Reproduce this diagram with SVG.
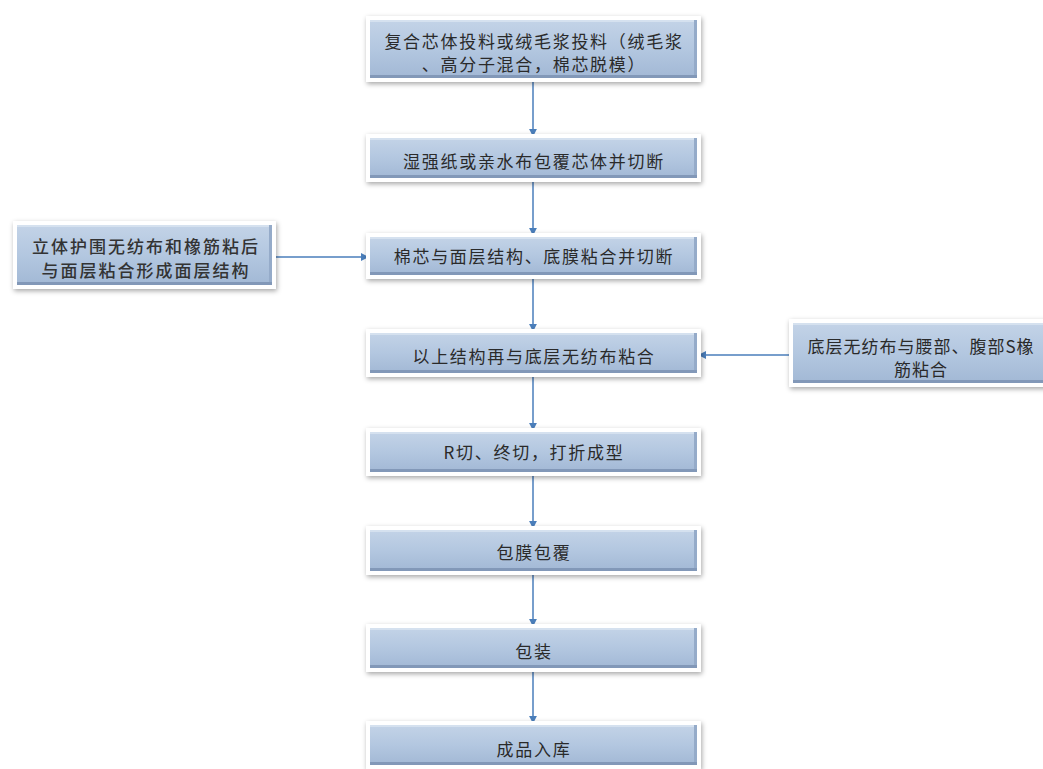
<svg xmlns="http://www.w3.org/2000/svg" width="1043" height="769" viewBox="0 0 1043 769">
  <defs>
    <linearGradient id="boxFill" x1="0" y1="0" x2="0" y2="1">
      <stop offset="0" stop-color="#c3d3e7"/>
      <stop offset="0.5" stop-color="#b3c7e0"/>
      <stop offset="1" stop-color="#a2b8d5"/>
    </linearGradient>
    <filter id="shadow" x="-10%" y="-30%" width="120%" height="160%">
      <feDropShadow dx="1" dy="2" stdDeviation="2.5" flood-color="#000" flood-opacity="0.35"/>
    </filter>
    <marker id="arrow" viewBox="0 0 10 10" refX="9" refY="5" markerWidth="5.5" markerHeight="5.5" orient="auto" markerUnits="strokeWidth">
      <path d="M0,0 L10,5 L0,10 z" fill="#4a7ebb"/>
    </marker>
    <style>
      .frame { fill: #ffffff; filter: url(#shadow); }
      .body { fill: url(#boxFill); }
      .edgeB { fill: #8298b8; }
      .edgeR { fill: #95abc9; }
      .edgeT { fill: #d5e1ef; }
      .lbl { font-family: "Noto Sans CJK SC", "Noto Sans", sans-serif; font-size: 17px; fill: #2a2a2a; text-anchor: middle; letter-spacing: 1.7px; }
      .lbl-big { font-family: "Noto Sans CJK SC", "Noto Sans", sans-serif; font-size: 17px; fill: #333333; text-anchor: middle; font-weight: 500; letter-spacing: 2px; }
      .conn { stroke: #4a7ebb; stroke-width: 1.5; fill: none; marker-end: url(#arrow); }
    </style>
  </defs>

  <rect width="1043" height="769" fill="#ffffff"/>

  <!-- connectors -->
  <g id="connectors">
    <line class="conn" x1="533" y1="80" x2="533" y2="136"/>
    <line class="conn" x1="533" y1="180" x2="533" y2="235"/>
    <line class="conn" x1="533" y1="277" x2="533" y2="331"/>
    <line class="conn" x1="533" y1="375" x2="533" y2="430"/>
    <line class="conn" x1="533" y1="474" x2="533" y2="528"/>
    <line class="conn" x1="533" y1="573" x2="533" y2="626"/>
    <line class="conn" x1="533" y1="670" x2="533" y2="723"/>
    <line class="conn" x1="275" y1="257" x2="368" y2="257"/>
    <line class="conn" x1="790" y1="355" x2="699" y2="355"/>
  </g>

  <!-- step 1 -->
  <g id="n1">
    <rect class="frame" x="366" y="16" width="335" height="66"/>
    <rect class="body" x="370" y="20" width="327" height="58"/>
    <rect class="edgeT" x="370" y="20" width="327" height="2"/>
    <rect class="edgeR" x="694" y="20" width="3" height="58"/>
    <rect class="edgeB" x="370" y="75" width="327" height="3"/>
    <text class="lbl" x="534" y="48">复合芯体投料或绒毛浆投料（绒毛浆</text>
    <text class="lbl" x="534" y="71">、高分子混合，棉芯脱模）</text>
  </g>

  <!-- step 2 -->
  <g id="n2">
    <rect class="frame" x="366" y="134" width="335" height="48"/>
    <rect class="body" x="370" y="138" width="327" height="40"/>
    <rect class="edgeT" x="370" y="138" width="327" height="2"/>
    <rect class="edgeR" x="694" y="138" width="3" height="40"/>
    <rect class="edgeB" x="370" y="175" width="327" height="3"/>
    <text class="lbl" x="534" y="168">湿强纸或亲水布包覆芯体并切断</text>
  </g>

  <!-- step 3 -->
  <g id="n3">
    <rect class="frame" x="366" y="233" width="335" height="46"/>
    <rect class="body" x="370" y="237" width="327" height="38"/>
    <rect class="edgeT" x="370" y="237" width="327" height="2"/>
    <rect class="edgeR" x="694" y="237" width="3" height="38"/>
    <rect class="edgeB" x="370" y="272" width="327" height="3"/>
    <text class="lbl" x="534" y="263">棉芯与面层结构、底膜粘合并切断</text>
  </g>

  <!-- side input: face layer -->
  <g id="n3a">
    <rect class="frame" x="13" y="221" width="263" height="68"/>
    <rect class="body" x="17" y="225" width="255" height="60"/>
    <rect class="edgeT" x="17" y="225" width="255" height="2"/>
    <rect class="edgeR" x="269" y="225" width="3" height="60"/>
    <rect class="edgeB" x="17" y="282" width="255" height="3"/>
    <text class="lbl-big" x="146" y="253">立体护围无纺布和橡筋粘后</text>
    <text class="lbl-big" x="146" y="277">与面层粘合形成面层结构</text>
  </g>

  <!-- step 4 -->
  <g id="n4">
    <rect class="frame" x="366" y="329" width="335" height="48"/>
    <rect class="body" x="370" y="333" width="327" height="40"/>
    <rect class="edgeT" x="370" y="333" width="327" height="2"/>
    <rect class="edgeR" x="694" y="333" width="3" height="40"/>
    <rect class="edgeB" x="370" y="370" width="327" height="3"/>
    <text class="lbl" x="534" y="363">以上结构再与底层无纺布粘合</text>
  </g>

  <!-- side input: bottom layer -->
  <g id="n4a">
    <rect class="frame" x="789" y="319" width="260" height="68"/>
    <rect class="body" x="793" y="323" width="252" height="60"/>
    <rect class="edgeT" x="793" y="323" width="252" height="2"/>
    <rect class="edgeB" x="793" y="380" width="252" height="3"/>
    <text class="lbl" x="921" y="353" style="letter-spacing:1px">底层无纺布与腰部、腹部S橡</text>
    <text class="lbl" x="921" y="376" style="letter-spacing:1px">筋粘合</text>
  </g>

  <!-- step 5 -->
  <g id="n5">
    <rect class="frame" x="366" y="428" width="335" height="48"/>
    <rect class="body" x="370" y="432" width="327" height="40"/>
    <rect class="edgeT" x="370" y="432" width="327" height="2"/>
    <rect class="edgeR" x="694" y="432" width="3" height="40"/>
    <rect class="edgeB" x="370" y="469" width="327" height="3"/>
    <text class="lbl" x="534" y="459">R切、终切，打折成型</text>
  </g>

  <!-- step 6 -->
  <g id="n6">
    <rect class="frame" x="366" y="526" width="335" height="49"/>
    <rect class="body" x="370" y="530" width="327" height="41"/>
    <rect class="edgeT" x="370" y="530" width="327" height="2"/>
    <rect class="edgeR" x="694" y="530" width="3" height="41"/>
    <rect class="edgeB" x="370" y="568" width="327" height="3"/>
    <text class="lbl" x="534" y="559">包膜包覆</text>
  </g>

  <!-- step 7 -->
  <g id="n7">
    <rect class="frame" x="366" y="624" width="335" height="48"/>
    <rect class="body" x="370" y="628" width="327" height="40"/>
    <rect class="edgeT" x="370" y="628" width="327" height="2"/>
    <rect class="edgeR" x="694" y="628" width="3" height="40"/>
    <rect class="edgeB" x="370" y="665" width="327" height="3"/>
    <text class="lbl" x="534" y="658">包装</text>
  </g>

  <!-- step 8 -->
  <g id="n8">
    <rect class="frame" x="366" y="721" width="335" height="48"/>
    <rect class="body" x="370" y="725" width="327" height="40"/>
    <rect class="edgeT" x="370" y="725" width="327" height="2"/>
    <rect class="edgeR" x="694" y="725" width="3" height="40"/>
    <rect class="edgeB" x="370" y="762" width="327" height="3"/>
    <text class="lbl" x="534" y="756">成品入库</text>
  </g>
</svg>
